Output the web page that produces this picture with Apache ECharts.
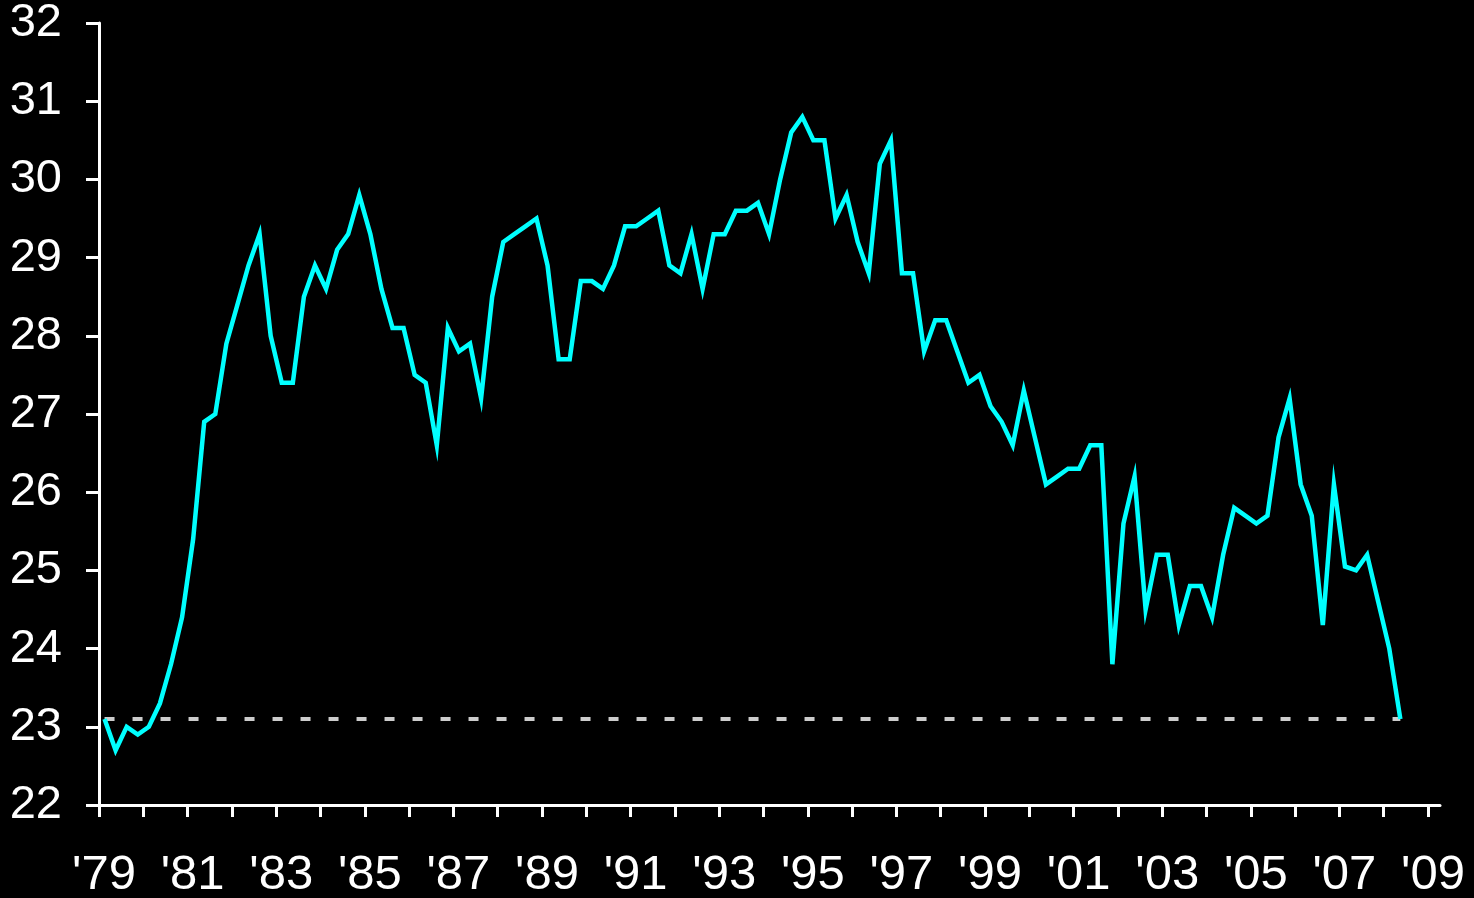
<!DOCTYPE html>
<html>
<head>
<meta charset="utf-8">
<script src="https://cdn.jsdelivr.net/npm/echarts@6/dist/echarts.min.js"></script>
<style>
html, body { margin: 0; padding: 0; background: #000; }
#chart { width: 1474px; height: 898px; }
</style>
</head>
<body>
<div id="chart"></div>
<script>
// quarterly values, 1979 Q1 .. 2008 Q2
var startYear = 1979
var ratio = [
  23.1, 22.7, 23.0, 22.9, 23.0, 23.3, 23.8, 24.4, 25.4, 26.9,
  27.0, 27.9, 28.4, 28.9, 29.3, 28.0, 27.4, 27.4, 28.5, 28.9,
  28.6, 29.1, 29.3, 29.8, 29.3, 28.6, 28.1, 28.1, 27.5, 27.4,
  26.6, 28.1, 27.8, 27.9, 27.2, 28.5, 29.2, 29.3, 29.4, 29.5,
  28.9, 27.7, 27.7, 28.7, 28.7, 28.6, 28.9, 29.4, 29.4, 29.5,
  29.6, 28.9, 28.8, 29.3, 28.6, 29.3, 29.3, 29.6, 29.6, 29.7,
  29.3, 30.0, 30.6, 30.8, 30.5, 30.5, 29.5, 29.8, 29.2, 28.8,
  30.2, 30.5, 28.8, 28.8, 27.8, 28.2, 28.2, 27.8, 27.4, 27.5,
  27.1, 26.9, 26.6, 27.3, 26.7, 26.1, 26.2, 26.3, 26.3, 26.6,
  26.6, 23.8, 25.6, 26.2, 24.5, 25.2, 25.2, 24.3, 24.8, 24.8,
  24.4, 25.2, 25.8, 25.7, 25.6, 25.7, 26.7, 27.2, 26.1, 25.7,
  24.3, 26.1, 25.05, 25.0, 25.2, 24.6, 24.0, 23.1
]
var baseline = 23.1
var yTicks = [22, 23, 24, 25, 26, 27, 28, 29, 30, 31, 32]
var xTickYears = [1979, 1980, 1981, 1982, 1983, 1984, 1985, 1986, 1987, 1988,
  1989, 1990, 1991, 1992, 1993, 1994, 1995, 1996, 1997, 1998, 1999, 2000,
  2001, 2002, 2003, 2004, 2005, 2006, 2007, 2008, 2009]
var xLabelYears = [1979, 1981, 1983, 1985, 1987, 1989, 1991, 1993, 1995,
  1997, 1999, 2001, 2003, 2005, 2007, 2009]

// each quarter sits in the middle of its slot on the year axis
var points = ratio.map(function (v, i) {
  return [startYear + (i + 0.5) / 4, v]
})
var baseLine = [
  [points[0][0], baseline],
  [points[points.length - 1][0], baseline]
]

var chart = echarts.init(document.getElementById('chart'))
var fontFamily = '"Liberation Sans", Arial, sans-serif'
chart.setOption({
  backgroundColor: '#000',
  animation: false,
  grid: { left: 99, right: 34, top: 23, bottom: 93, outerBoundsMode: 'none' },
  xAxis: {
    type: 'value',
    min: 1979,
    max: 2009.27,
    interval: 1,
    splitLine: { show: false },
    axisLine: { lineStyle: { color: '#fff', width: 3 } },
    axisTick: {
      customValues: xTickYears,
      length: 12,
      lineStyle: { color: '#fff', width: 3 }
    },
    axisLabel: {
      customValues: xLabelYears,
      color: '#fff',
      fontSize: 49,
      fontFamily: fontFamily,
      margin: 46,
      padding: [0, 0, 0, 10],
      formatter: function (v) { return "'" + String(v).slice(2) }
    }
  },
  yAxis: {
    type: 'value',
    min: 22,
    max: 32,
    interval: 1,
    splitLine: { show: false },
    axisLine: { show: true, lineStyle: { color: '#fff', width: 3 } },
    axisTick: {
      show: true,
      customValues: yTicks,
      length: 13,
      lineStyle: { color: '#fff', width: 3 }
    },
    axisLabel: {
      color: '#fff',
      fontSize: 47,
      fontFamily: fontFamily,
      margin: 37
    }
  },
  series: [
    {
      type: 'line',
      data: baseLine,
      symbol: 'none',
      silent: true,
      lineStyle: { color: '#cccccc', width: 4, type: [10, 18] }
    },
    {
      type: 'line',
      data: points,
      symbol: 'none',
      lineStyle: { color: '#00ffff', width: 4.5, join: 'miter' }
    }
  ]
})
</script>
</body>
</html>
